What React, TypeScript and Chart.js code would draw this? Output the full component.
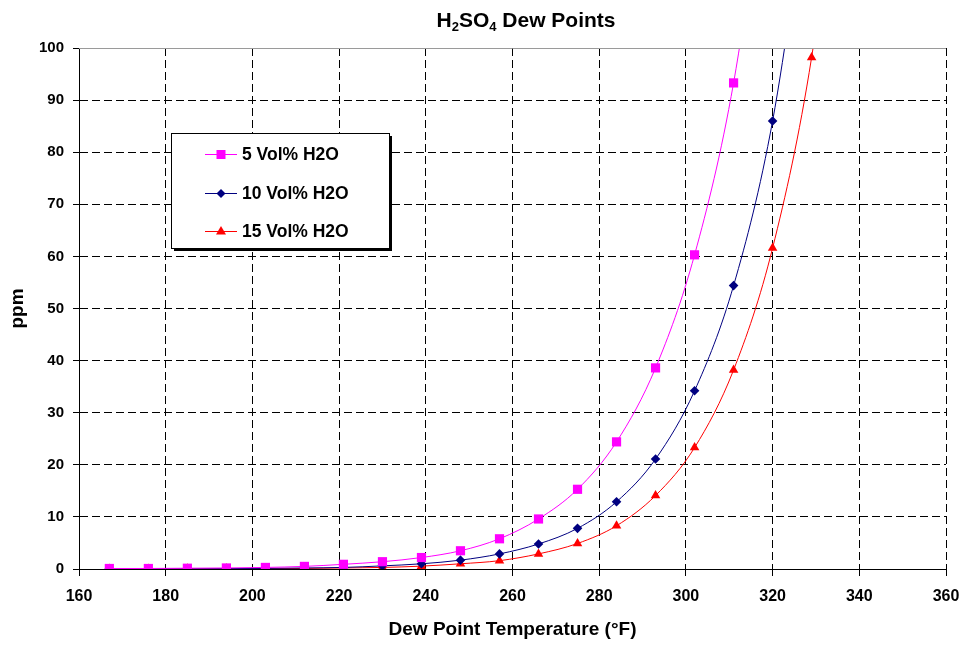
import React, { useEffect, useRef } from 'react';
import { Chart, registerables } from 'chart.js';

Chart.register(...registerables);

const FONT = 'Arial, "Liberation Sans", Helvetica, sans-serif';

const temperatures = [167, 176, 185, 194, 203, 212, 221, 230, 239, 248, 257, 266, 275, 284, 293, 302, 311, 320, 329, 338];
const vol5 = [0.1, 0.1, 0.15, 0.2, 0.3, 0.5, 0.9, 1.4, 2.2, 3.5, 5.8, 9.6, 15.3, 24.4, 38.6, 60.3, 93.3, 145];
const vol10 = [0.03, 0.04, 0.05, 0.08, 0.12, 0.2, 0.3, 0.6, 1.0, 1.7, 2.9, 4.8, 7.8, 12.9, 21.1, 34.2, 54.4, 86.0, 136];
const vol15 = [0.02, 0.02, 0.03, 0.05, 0.07, 0.1, 0.2, 0.3, 0.55, 1.0, 1.6, 2.9, 4.9, 8.3, 14.1, 23.3, 38.2, 61.6, 98.2, 156];
const seriesNames = ['5 Vol% H2O', '10 Vol% H2O', '15 Vol% H2O'];
const seriesColors = ['#FF00FF', '#000080', '#FF0000'];
const seriesMarkers = ['rect', 'rectRot', 'triangle'];
const xTitle = 'Dew Point Temperature (°F)';
const yTitle = 'ppm';
const titleParts = ['H', '2', 'SO', '4', ' Dew Points'];

const toPoints = (vals: number[]) => vals.map((v, i) => ({ x: temperatures[i], y: v }));

function drawMarker(ctx: CanvasRenderingContext2D, kind: string, x: number, y: number, color: string) {
  ctx.save();
  ctx.fillStyle = color;
  ctx.beginPath();
  if (kind === 'rect') {
    ctx.rect(x - 4.5, y - 4.5, 9, 9);
  } else if (kind === 'rectRot') {
    ctx.moveTo(x, y - 4.5);
    ctx.lineTo(x + 4.5, y);
    ctx.lineTo(x, y + 4.5);
    ctx.lineTo(x - 4.5, y);
    ctx.closePath();
  } else {
    ctx.moveTo(x, y - 5.5);
    ctx.lineTo(x + 5, y + 3);
    ctx.lineTo(x - 5, y + 3);
    ctx.closePath();
  }
  ctx.fill();
  ctx.restore();
}

const decorPlugin = {
  id: 'decor',
  afterDraw(chart: any) {
    const ctx: CanvasRenderingContext2D = chart.ctx;
    const area = chart.chartArea;
    ctx.save();
    // top frame line
    ctx.strokeStyle = '#9a9a9a';
    ctx.lineWidth = 1;
    ctx.beginPath();
    ctx.moveTo(area.left, area.top + 0.5);
    ctx.lineTo(area.right, area.top + 0.5);
    ctx.stroke();

    // title with subscripts
    const big = `bold 21px ${FONT}`;
    const small = `bold 13px ${FONT}`;
    let total = 0;
    const widths: number[] = [];
    titleParts.forEach((p, i) => {
      ctx.font = i === 1 || i === 3 ? small : big;
      const w = ctx.measureText(p).width;
      widths.push(w);
      total += w;
    });
    let x = 526 - total / 2;
    ctx.fillStyle = '#000';
    ctx.textBaseline = 'alphabetic';
    ctx.textAlign = 'left';
    titleParts.forEach((p, i) => {
      const sub = i === 1 || i === 3;
      ctx.font = sub ? small : big;
      ctx.fillText(p, x, sub ? 31 : 27);
      x += widths[i];
    });

    // legend box
    const bx = 171, by = 133, bw = 218, bh = 115;
    ctx.fillStyle = '#000';
    ctx.fillRect(bx + 3, by + 3, bw, bh);
    ctx.fillStyle = '#fff';
    ctx.fillRect(bx, by, bw, bh);
    ctx.strokeStyle = '#000';
    ctx.lineWidth = 1;
    ctx.strokeRect(bx + 0.5, by + 0.5, bw, bh);
    const ys = [154, 193, 231];
    seriesNames.forEach((name, i) => {
      const y = ys[i];
      ctx.strokeStyle = seriesColors[i];
      ctx.lineWidth = 1;
      ctx.beginPath();
      ctx.moveTo(205, y + 0.5);
      ctx.lineTo(237, y + 0.5);
      ctx.stroke();
      drawMarker(ctx, seriesMarkers[i], 221, y + 0.5, seriesColors[i]);
      ctx.fillStyle = '#000';
      ctx.font = `bold 17.5px ${FONT}`;
      ctx.textBaseline = 'middle';
      ctx.textAlign = 'left';
      ctx.fillText(name, 242, y + 1);
    });
    ctx.restore();
  },
};

export default function App() {
  const ref = useRef<HTMLCanvasElement | null>(null);
  useEffect(() => {
    document.body.style.margin = '0';
    const canvas = ref.current;
    if (!canvas) return;
    const series = [vol5, vol10, vol15];
    const chart = new Chart(canvas, {
      type: 'line',
      data: {
        datasets: series.map((vals, i) => ({
          label: seriesNames[i],
          data: toPoints(vals),
          borderColor: seriesColors[i],
          backgroundColor: seriesColors[i],
          pointBackgroundColor: seriesColors[i],
          pointBorderColor: seriesColors[i],
          pointStyle: seriesMarkers[i] as any,
          pointRadius: i === 0 ? 6.5 : i === 1 ? 4.8 : 5.5,
          pointBorderWidth: 0,
          borderWidth: 1,
          cubicInterpolationMode: 'monotone' as const,
          fill: false,
        })),
      },
      options: {
        responsive: false,
        animation: false,
        devicePixelRatio: 1,
        layout: { padding: { top: 48, right: 21, left: 0, bottom: 0 } },
        plugins: {
          legend: { display: false },
          title: { display: false },
          tooltip: { enabled: false },
        },
        scales: {
          x: {
            type: 'linear',
            min: 160,
            max: 360,
            ticks: {
              stepSize: 20,
              color: '#000',
              font: { family: FONT, size: 16, weight: 'bold' },
              padding: 11,
              maxRotation: 0,
              autoSkip: false,
            },
            grid: {
              color: (c: any) => (c.tick && c.tick.value === 160 ? 'rgba(0,0,0,0)' : '#000'),
              tickLength: 7,
              tickColor: '#000',
              tickBorderDash: [],
              lineWidth: 1,
            },
            border: { color: '#000', width: 1, dash: [8, 4] },
            title: {
              display: true,
              text: xTitle,
              color: '#000',
              font: { family: FONT, size: 19, weight: 'bold', lineHeight: 1 },
              padding: { top: 0, bottom: 5.5 },
            },
            afterFit: (s: any) => {
              s.height = 76;
              s.paddingLeft = 0;
              s.paddingRight = 0;
            },
          },
          y: {
            type: 'linear',
            min: 0,
            max: 100,
            ticks: {
              stepSize: 10,
              color: '#000',
              font: { family: FONT, size: 15, weight: 'bold' },
              padding: 9,
            },
            grid: {
              color: (c: any) =>
                c.tick && (c.tick.value === 0 || c.tick.value === 100) ? 'rgba(0,0,0,0)' : '#000',
              tickLength: 6,
              tickColor: '#000',
              tickBorderDash: [],
              lineWidth: 1,
            },
            border: { color: '#000', width: 1, dash: [8, 4] },
            title: {
              display: true,
              text: yTitle,
              color: '#000',
              font: { family: FONT, size: 19, weight: 'bold', lineHeight: 1 },
              padding: { top: 8.5, bottom: 0 },
            },
            afterFit: (s: any) => {
              s.width = 79;
              s.paddingTop = 0;
              s.paddingBottom = 0;
            },
          },
        },
      },
      plugins: [decorPlugin],
    } as any);
    return () => chart.destroy();
  }, []);
  return (
    <div style={{ width: 967, height: 645, background: '#fff' }}>
      <canvas ref={ref} width={967} height={645} />
    </div>
  );
}
